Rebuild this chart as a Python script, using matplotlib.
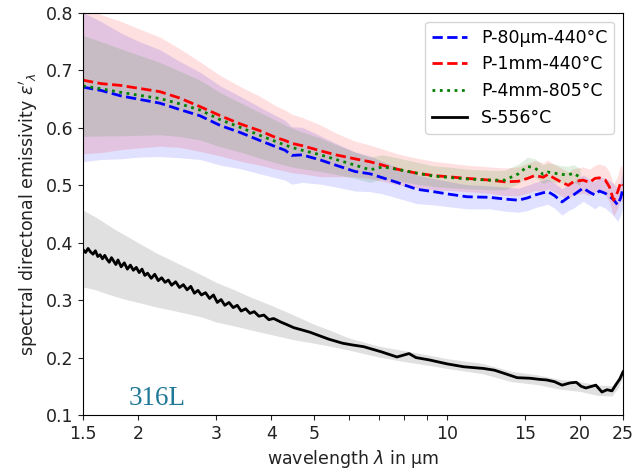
import numpy as np
import matplotlib
matplotlib.use("Agg")
import matplotlib.pyplot as plt
from matplotlib.ticker import FixedLocator, NullFormatter

# ---------------- data ----------------
WL_P = [1.5, 1.65, 1.82, 2.0, 2.24, 2.48, 2.76, 3.07, 3.4, 3.77, 4.1, 4.3, 4.45, 4.7,
        5.17, 5.6, 6.19, 6.69, 7.15, 7.7, 8.55, 9.3, 10, 11.1, 12.5, 13.5, 14.5, 15.2,
        15.8, 16.5, 16.9, 17.5, 18.2, 18.8, 19.3, 20.3, 21.0, 21.6, 22.1, 22.8, 23.3,
        23.8, 24.3, 24.7, 25]

P80_VAL = [0.671, 0.665, 0.656, 0.650, 0.643, 0.632, 0.621, 0.604, 0.592, 0.578, 0.567,
           0.561, 0.552, 0.553, 0.544, 0.535, 0.524, 0.520, 0.513, 0.505, 0.493, 0.489,
           0.485, 0.480, 0.479, 0.476, 0.474, 0.478, 0.483, 0.487, 0.489, 0.482, 0.471,
           0.479, 0.483, 0.495, 0.488, 0.483, 0.490, 0.486, 0.481, 0.475, 0.466, 0.478,
           0.495]
P80_HW = [0.130, 0.120, 0.110, 0.101, 0.093, 0.084, 0.076, 0.069, 0.063, 0.058, 0.054,
          0.052, 0.050, 0.048, 0.042, 0.038, 0.034, 0.031, 0.028, 0.027, 0.025, 0.023,
          0.022, 0.021, 0.020, 0.021, 0.021, 0.022, 0.022, 0.022, 0.022, 0.022, 0.023,
          0.023, 0.023, 0.023, 0.023, 0.024, 0.025, 0.026, 0.027, 0.028, 0.029, 0.030,
          0.031]

P1_VAL = [0.683, 0.677, 0.674, 0.669, 0.663, 0.652, 0.637, 0.621, 0.607, 0.595, 0.583,
          0.578, 0.573, 0.569, 0.560, 0.553, 0.546, 0.541, 0.535, 0.528, 0.521, 0.517,
          0.515, 0.512, 0.509, 0.506, 0.507, 0.512, 0.517, 0.514, 0.519, 0.512, 0.505,
          0.500, 0.506, 0.509, 0.505, 0.512, 0.513, 0.509, 0.497, 0.474, 0.488, 0.505,
          0.500]
P1_HW = [0.128, 0.120, 0.112, 0.104, 0.095, 0.086, 0.078, 0.070, 0.065, 0.060, 0.055,
         0.053, 0.051, 0.049, 0.045, 0.038, 0.031, 0.029, 0.028, 0.027, 0.026, 0.025,
         0.024, 0.023, 0.023, 0.024, 0.025, 0.026, 0.026, 0.025, 0.025, 0.024, 0.024,
         0.023, 0.023, 0.023, 0.023, 0.023, 0.024, 0.025, 0.026, 0.028, 0.028, 0.030,
         0.030]

WL_G = [1.5, 1.65, 1.82, 2.0, 2.24, 2.48, 2.76, 3.07, 3.4, 3.77, 4.1, 4.3, 4.45, 4.7,
        5.17, 5.6, 6.19, 6.69, 7.15, 7.7, 8.55, 9.3, 10, 11.1, 12.5, 13.5, 14.5, 15.2,
        15.8, 16.5, 16.9, 17.5, 18.2, 18.8, 19.3, 20.0]
P4_VAL = [0.673, 0.668, 0.662, 0.657, 0.651, 0.642, 0.631, 0.614, 0.601, 0.587, 0.576,
          0.570, 0.566, 0.561, 0.553, 0.545, 0.535, 0.527, 0.532, 0.528, 0.521, 0.516,
          0.514, 0.511, 0.509, 0.509, 0.520, 0.533, 0.530, 0.519, 0.523, 0.521, 0.519,
          0.518, 0.521, 0.514]
P4_HW = [0.088, 0.082, 0.076, 0.070, 0.063, 0.057, 0.052, 0.047, 0.043, 0.040, 0.037,
         0.035, 0.034, 0.032, 0.029, 0.026, 0.023, 0.022, 0.021, 0.020, 0.019, 0.018,
         0.018, 0.017, 0.017, 0.017, 0.017, 0.016, 0.016, 0.016, 0.016, 0.016, 0.015,
         0.015, 0.015, 0.015]

WL_S = [1.50, 1.52, 1.54, 1.56, 1.58, 1.60, 1.62, 1.64, 1.66, 1.68, 1.70, 1.72, 1.74,
        1.76, 1.78, 1.80, 1.83, 1.86, 1.89, 1.92, 1.95, 1.98, 2.01, 2.04, 2.07, 2.10,
        2.14, 2.18, 2.22, 2.26, 2.30, 2.34, 2.38, 2.43, 2.48, 2.53, 2.58, 2.63, 2.68,
        2.73, 2.78, 2.84, 2.90, 2.96, 3.02, 3.08, 3.14, 3.21, 3.28, 3.35, 3.42, 3.50,
        3.58, 3.66, 3.75, 3.85, 3.95, 4.05, 4.2, 4.35, 4.5, 4.7, 4.9, 5.1, 5.4, 5.8,
        6.1, 6.47, 7.1, 7.7, 8.2, 8.5, 9.1, 10, 10.9, 12.1, 12.8, 13.4, 14.4, 15.4,
        16.2, 16.8, 17.5, 18.2, 19.0, 19.6, 20.1, 20.6, 21.7, 22.4, 23.0, 23.6, 24.2,
        24.6, 25]
S_VAL = [0.388, 0.383, 0.390, 0.384, 0.380, 0.386, 0.376, 0.379, 0.372, 0.378, 0.371,
         0.366, 0.374, 0.368, 0.362, 0.370, 0.358, 0.365, 0.354, 0.361, 0.352, 0.357,
         0.348, 0.354, 0.343, 0.347, 0.338, 0.345, 0.334, 0.339, 0.331, 0.335, 0.326,
         0.332, 0.322, 0.327, 0.318, 0.324, 0.312, 0.317, 0.309, 0.313, 0.303, 0.309,
         0.296, 0.301, 0.291, 0.296, 0.287, 0.291, 0.281, 0.285, 0.277, 0.280, 0.272,
         0.274, 0.266, 0.268, 0.262, 0.257, 0.252, 0.248, 0.244, 0.239, 0.232, 0.225,
         0.222, 0.219, 0.210, 0.201, 0.207, 0.200, 0.196, 0.189, 0.184, 0.181, 0.178,
         0.173, 0.165, 0.164, 0.162, 0.161, 0.158, 0.152, 0.156, 0.157, 0.150, 0.147,
         0.152, 0.140, 0.144, 0.142, 0.155, 0.163, 0.175]

WL_SB = [1.5, 1.6, 1.7, 1.8, 1.9, 2.0, 2.2, 2.4, 2.6, 2.8, 3.0, 3.3, 3.6, 4.0, 4.5,
         5.0, 5.5, 6.0, 7.0, 8.0, 9.0, 10, 12, 14, 16, 18, 20, 22, 23.6, 24.3, 25]
S_LOW = [0.323, 0.318, 0.311, 0.305, 0.300, 0.296, 0.288, 0.282, 0.276, 0.270, 0.262,
         0.255, 0.248, 0.240, 0.231, 0.225, 0.219, 0.213, 0.201, 0.193, 0.187, 0.181,
         0.172, 0.158, 0.153, 0.145, 0.141, 0.134, 0.133, 0.146, 0.166]
S_UP = [0.457, 0.445, 0.432, 0.420, 0.410, 0.400, 0.382, 0.368, 0.355, 0.343, 0.331,
        0.318, 0.305, 0.291, 0.274, 0.258, 0.246, 0.234, 0.220, 0.212, 0.205, 0.198,
        0.190, 0.176, 0.170, 0.162, 0.158, 0.152, 0.151, 0.164, 0.184]

LABELS = ["P-80µm-440°C", "P-1mm-440°C", "P-4mm-805°C", "S-556°C"]
XTICKS = [1.5, 2, 3, 4, 5, 10, 15, 20, 25]
XTICKLABELS = ["1.5", "2", "3", "4", "5", "10", "15", "20", "25"]
XMINOR = [6, 7, 8, 9]
YTICKS = [0.1, 0.2, 0.3, 0.4, 0.5, 0.6, 0.7, 0.8]

# ---------------- plot ----------------
plt.rcParams["font.family"] = ["DejaVu Sans"]
fig = plt.figure(figsize=(6.41, 4.74), dpi=100)
ax = fig.add_axes([83 / 641, 59 / 474, 540 / 641, 402 / 474])

def band(wl, val, hw, color, alpha):
    v = np.array(val)
    h = np.array(hw)
    ax.fill_between(wl, v - h, v + h, color=color, alpha=alpha, lw=0)

band(WL_P, P80_VAL, P80_HW, "blue", 0.12)
band(WL_P, P1_VAL, P1_HW, "red", 0.12)
band(WL_G, P4_VAL, P4_HW, "green", 0.12)
ax.fill_between(WL_SB, S_LOW, S_UP, color="black", alpha=0.12, lw=0)

ax.plot(WL_P, P80_VAL, color="blue", ls="--", lw=2, label=LABELS[0])
ax.plot(WL_P, P1_VAL, color="red", ls="--", lw=2, label=LABELS[1])
ax.plot(WL_G, P4_VAL, color="green", ls=":", lw=2, label=LABELS[2])
ax.plot(WL_S, S_VAL, color="black", ls="-", lw=2, label=LABELS[3])

ax.set_xscale("log")
ax.set_xlim(1.5, 25)
ax.set_ylim(0.1, 0.8)
ax.set_xticks(XTICKS)
ax.set_xticklabels(XTICKLABELS)
ax.xaxis.set_minor_locator(FixedLocator(XMINOR))
ax.xaxis.set_minor_formatter(NullFormatter())
ax.set_yticks(YTICKS)
ax.set_yticklabels([f"{t:.1f}" for t in YTICKS])
ax.tick_params(labelsize=12.5, colors="#222222")
ax.tick_params(which="minor", length=3.5)

ax.set_xlabel(r"wavelength $\lambda$ in µm", fontsize=12.5, color="#222222")
ax.set_ylabel(r"spectral directonal emissivity $\varepsilon'_{\lambda}$", fontsize=12.5,
              color="#222222")

ax.text(1.9, 0.117, "316L", fontfamily="Liberation Serif", fontsize=19.5,
        color="#1f7896", va="baseline")

ax.legend(loc="upper right", fontsize=12.5)

fig.savefig("out.png", dpi=100)
